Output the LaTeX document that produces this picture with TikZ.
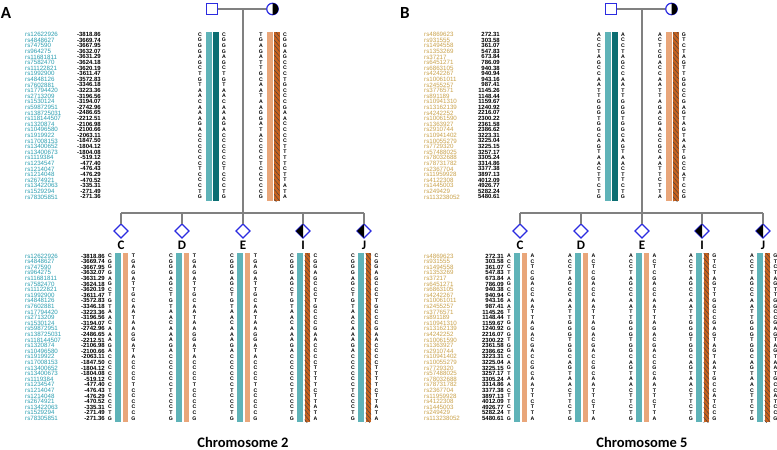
\documentclass[tikz,border=0pt]{standalone}
\usepackage{fontspec}
\setmainfont{Liberation Sans}
\newfontfamily\lblfont{Carlito}
\usetikzlibrary{shapes.geometric,patterns.meta}

\definecolor{tealL}{HTML}{5FB3B8}
\definecolor{tealD}{HTML}{0B6E72}
\definecolor{orgL}{HTML}{E9A67A}
\definecolor{orgD}{HTML}{C8621F}
\definecolor{rsA}{HTML}{2A9DB0}
\definecolor{rsB}{HTML}{C9A14A}
\definecolor{pedblue}{HTML}{2B2BE0}
\definecolor{pedline}{HTML}{808080}

% SNP lists (id/position)
\def\rsListA{rs12622926/-3818.86, rs4848627/-3669.74, rs747590/-3667.95,
  rs964275/-3632.07, rs11681811/-3631.29, rs7582470/-3624.18,
  rs11122821/-3620.19, rs1992900/-3611.47, rs4848126/-3572.83,
  rs7602881/-3346.18, rs17794420/-3223.36, rs2713209/-3196.56,
  rs1530124/-3194.07, rs59872951/-2742.96, rs138725031/-2486.65,
  rs118144507/-2212.51, rs1320874/-2106.98, rs10496580/-2100.66,
  rs1919922/-2063.11, rs17008153/-1847.50, rs13400652/-1804.12,
  rs13400673/-1804.08, rs1119384/-519.12, rs1234547/-477.40,
  rs1214047/-476.43, rs1214048/-476.29, rs2674921/-470.52,
  rs13422063/-335.31, rs1529294/-271.49, rs78305851/-271.36}
\def\rsListB{rs4869623/272.31, rs931555/303.58, rs1494558/361.07,
  rs1353269/547.83, rs37217/673.84, rs6451271/786.09,
  rs6863105/940.38, rs4242267/940.94, rs10061011/943.16,
  rs2455257/987.41, rs3776571/1145.26, rs891189/1148.44,
  rs10941310/1159.67, rs13162139/1240.92, rs4242252/2216.07,
  rs10061590/2300.22, rs1363927/2361.58, rs2910744/2386.62,
  rs10941402/3223.31, rs10055279/3225.04, rs7729320/3225.15,
  rs57488025/3257.17, rs78032688/3305.24, rs78731782/3314.86,
  rs2367704/3377.38, rs11959928/3897.13, rs4122308/4012.09,
  rs1445003/4926.77, rs249429/5282.24, rs113238052/5480.61}

% haplotypes
\def\fhapA{C,G,G,G,A,G,C,T,G,T,A,A,C,A,A,A,G,A,C,C,C,C,C,C,T,C,C,C,T,G}
\def\mhapA{T,G,A,G,A,T,T,G,C,A,A,T,A,A,G,G,A,T,A,C,C,C,C,T,C,C,C,C,C,G}
\def\mhatA{C,G,G,A,G,C,C,C,T,G,C,C,C,G,A,A,C,C,C,C,T,T,T,T,C,T,T,A,T,A}
\def\fhapB{A,C,C,T,A,G,C,C,A,A,T,T,G,G,G,T,G,G,C,A,G,T,A,A,C,T,T,C,T,G}
\def\mhapB{A,C,T,C,G,A,C,C,A,A,T,T,A,G,A,C,G,A,C,C,G,C,A,A,T,T,C,T,T,A}
\def\mhatB{G,T,C,T,A,G,T,T,G,G,C,C,G,A,G,T,A,G,T,A,A,T,G,C,C,A,T,C,C,G}

\newcommand{\snplist}[5]{% tag, y0, x of values, colour, list
  \foreach \r/\v [count=\i] in #5 {
    \node[rsid, text=#4] (#1r\i) at (25,{#2+(\i-1)*5.6}) {\r};
    \node[snpval] (#1v\i) at (#3,{#2+(\i-1)*5.6}) {\v};
  }}
\newcommand{\basecol}[4]{% tag, x, y0, bases
  \foreach \b [count=\i] in #4 {\node[base] (#1\i) at ({#2},{#3+(\i-1)*5.6}) {\b};}}
\newcommand{\plainbar}[4]{\fill[#4] ({#1},#2) rectangle ({#1+5.5},#3);}
\newcommand{\hatchbar}[3]{%
  \fill[orgD] ({#1},#2) rectangle ({#1+5.5},#3);
  \fill[pattern={Lines[angle=-50, distance=3.2pt, line width=0.45pt]}, pattern color=black!75]
    ({#1},#2) rectangle ({#1+5.5},#3);}

\newcommand{\kidcol}[6]{% id, label, x, father bases, mother bases, hatched
  \coordinate (#1t) at (#3,213);
  \node[unk] (#1) at (#3,231) {};
  \draw[line] (#1t) -- (#1);
  \ifnum#6=1
    \fill (#1.north) -- (#1.west) -- (#1.south) -- cycle;
  \fi
  \node[kid] (#1lab) at (#3,245) {#2};
  \plainbar{#3-6}{253}{422}{tealL}
  \ifnum#6=1 \hatchbar{#3+1.5}{253}{422}\else\plainbar{#3+1.5}{253}{422}{orgL}\fi
  \basecol{#1a}{#3-11}{256}{#4}
  \basecol{#1b}{#3+12.5}{256}{#5}
}

\newcommand{\chrpanel}[8]{%
  \node[panel] (#1lab) at (6,13) {#1};
  % parents
  \node[male] (#1f) at (212,9) {};
  \node[female] (#1m) at (272.5,9) {};
  \begin{scope}
    \clip (#1m.north) rectangle ([xshift=7pt]#1m.south);
    \fill (#1m.center) circle (5.9pt);
  \end{scope}
  \coordinate (#1j) at (243,9);
  \coordinate (#1s) at (243,213);
  \coordinate (#1sl) at (121,213);
  \coordinate (#1sr) at (364,213);
  \draw[line] (#1f) -- (#1m);
  \draw[line] (#1j) -- (#1s);
  \draw[line] (#1sl) -- (#1sr);
  \snplist{#1p}{34.5}{101}{#2}{#3}
  \plainbar{206}{32}{201}{tealL}
  \plainbar{213}{32}{201}{tealD}
  \plainbar{267}{32}{201}{orgL}
  \hatchbar{274}{32}{201}
  \basecol{#1fa}{200}{34.5}{#4}
  \basecol{#1fb}{224}{34.5}{#5}
  \basecol{#1ma}{261}{34.5}{#6}
  \basecol{#1mb}{285}{34.5}{#7}
  % children
  \snplist{#1k}{256}{105}{#2}{#3}
  \kidcol{#1C}{C}{121}{#4}{#6}{0}
  \kidcol{#1D}{D}{182}{#4}{#6}{0}
  \kidcol{#1E}{E}{243}{#4}{#6}{0}
  \kidcol{#1I}{I}{303}{#4}{#7}{1}
  \kidcol{#1J}{J}{364}{#4}{#7}{1}
  \node[chrom] (#1chr) at (243,442) {#8};
}

\begin{document}
\begin{tikzpicture}[x=1pt, y=-1pt,
    rsid/.style={font=\fontsize{6.2}{6.2}\selectfont, inner sep=0pt, anchor=west},
    snpval/.style={font=\bfseries\fontsize{6}{6}\selectfont, inner sep=0pt, anchor=east},
    base/.style={font=\bfseries\fontsize{5.2}{5.2}\selectfont, inner sep=0pt},
    male/.style={rectangle, draw=pedblue, line width=1.2pt, minimum size=11pt, inner sep=0pt, fill=white},
    female/.style={circle, draw=pedblue, line width=1.2pt, minimum size=11.5pt, inner sep=0pt, fill=white},
    unk/.style={diamond, draw=pedblue, line width=1.1pt, minimum size=14pt, inner sep=0pt, outer sep=0pt, fill=white},
    kid/.style={font=\lblfont\bfseries\fontsize{13}{13}\selectfont, inner sep=0pt},
    panel/.style={font=\lblfont\bfseries\fontsize{17}{17}\selectfont, inner sep=0pt},
    chrom/.style={font=\lblfont\bfseries\fontsize{14.5}{14.5}\selectfont, inner sep=0pt},
    line/.style={draw=pedline, line width=1.2pt}
  ]
  \useasboundingbox (0,0) rectangle (777,450);

  \chrpanel{A}{rsA}{\rsListA}{\fhapA}{\fhapA}{\mhapA}{\mhatA}{Chromosome 2}

  \begin{scope}[xshift=399pt]
    \chrpanel{B}{rsB}{\rsListB}{\fhapB}{\fhapB}{\mhapB}{\mhatB}{Chromosome 5}
  \end{scope}
\end{tikzpicture}
\end{document}
